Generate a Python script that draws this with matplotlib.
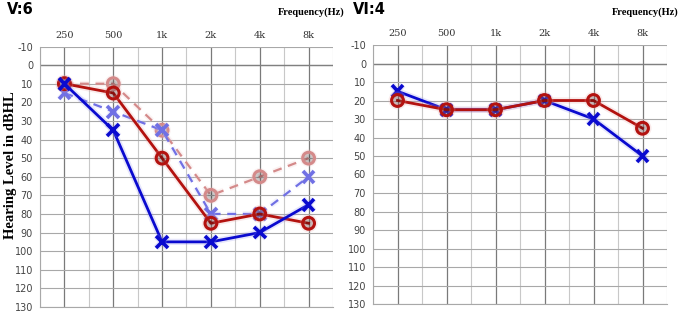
import matplotlib
matplotlib.use("Agg")
import matplotlib.pyplot as plt
import matplotlib.patheffects as pe

freqs = ["250", "500", "1k", "2k", "4k", "8k"]
yticks = list(range(-10, 140, 10))

# Panel V:6
v6_red = [10, 15, 50, 85, 80, 85]
v6_blue = [10, 35, 95, 95, 90, 75]
v6_red_dash = [10, 10, 35, 70, 60, 50]
v6_blue_dash = [15, 25, 35, 80, 80, 60]

# Panel VI:4
vi4_red = [20, 25, 25, 20, 20, 35]
vi4_blue = [15, 25, 25, 20, 30, 50]

W, H = 686, 316
fig = plt.figure(figsize=(W / 100, H / 100), dpi=100)
fig.patch.set_facecolor("white")

RED = "#B3120F"
BLUE = "#0A0ACF"
LRED = "#D48A8A"
LBLUE = "#7070E4"


def make_ax(x0, x1, ytop, ybot):
    ax = fig.add_axes([x0 / W, (H - ybot) / H, (x1 - x0) / W, (ybot - ytop) / H])
    ax.set_xlim(-0.5, 5.5)
    ax.set_ylim(130, -10)
    ax.set_yticks(yticks)
    ax.set_yticklabels([str(v) for v in yticks])
    ax.set_xticks(range(len(freqs)))
    ax.set_xticklabels(freqs, family="DejaVu Serif")
    ax.set_xticks([i + 0.5 for i in range(-1, 6)], minor=True)
    ax.xaxis.tick_top()
    ax.tick_params(axis="x", which="both", length=0, pad=5, labelsize=7, colors="#333333")
    ax.tick_params(axis="y", length=0, pad=5, labelsize=7, colors="#444444")
    ax.grid(True, axis="y", color="#A8A8A8", lw=0.8)
    ax.grid(True, axis="x", which="major", color="#7A7A7A", lw=0.9)
    ax.grid(True, axis="x", which="minor", color="#C8C8C8", lw=0.8)
    ax.axhline(0, color="#808080", lw=1.0, zorder=1)
    for s in ["top", "right"]:
        ax.spines[s].set_visible(False)
    ax.spines["left"].set_color("#A8A8A8")
    ax.spines["bottom"].set_color("#A8A8A8")
    ax.set_axisbelow(True)
    return ax


def glow(color, w):
    return [pe.Stroke(linewidth=w, foreground=color, alpha=0.22), pe.Normal()]


def plot_series(ax, vals, color, marker, ls="-", lw=2.0, light=False):
    x = list(range(len(vals)))
    if marker == "o":
        ax.plot(x, vals, ls=ls, color=color, lw=lw, marker="o", ms=8.5,
                mfc="none", mec=color, mew=2.2, zorder=4,
                path_effects=glow("#E8A0A0" if not light else "#F0C8C8", lw + 2.5))
    else:
        ax.plot(x, vals, ls=ls, color=color, lw=lw, marker="x", ms=8.5,
                mec=color, mew=2.6, zorder=4,
                path_effects=glow("#9090F0" if not light else "#C8C8F8", lw + 2.5))


ax1 = make_ax(40, 333, 46.5, 307)
plot_series(ax1, v6_red_dash, LRED, "o", ls=(0, (4, 3)), lw=1.6, light=True)
plot_series(ax1, v6_blue_dash, LBLUE, "x", ls=(0, (4, 3)), lw=1.6, light=True)
plot_series(ax1, v6_red, RED, "o")
plot_series(ax1, v6_blue, BLUE, "x")

ax2 = make_ax(373, 667, 45, 304)
plot_series(ax2, vi4_blue, BLUE, "x")
plot_series(ax2, vi4_red, RED, "o")

fig.text(7 / W, 1 - 10 / H, "V:6", fontsize=10.5, fontweight="bold", va="center", ha="left")
fig.text(353 / W, 1 - 10 / H, "VI:4", fontsize=10.5, fontweight="bold", va="center", ha="left")
fig.text(345 / W, 1 - 12 / H, "Frequency(Hz)", fontsize=7.5, fontweight="bold",
         family="Liberation Serif", va="center", ha="right")
fig.text(679 / W, 1 - 12 / H, "Frequency(Hz)", fontsize=7.5, fontweight="bold",
         family="Liberation Serif", va="center", ha="right")
fig.text(11 / W, 1 - 165 / H, "Hearing Level in dBHL", fontsize=10.5, fontweight="bold",
         family="Liberation Serif", rotation=90, va="center", ha="center")

fig.savefig("out.png", dpi=100, facecolor="white")
